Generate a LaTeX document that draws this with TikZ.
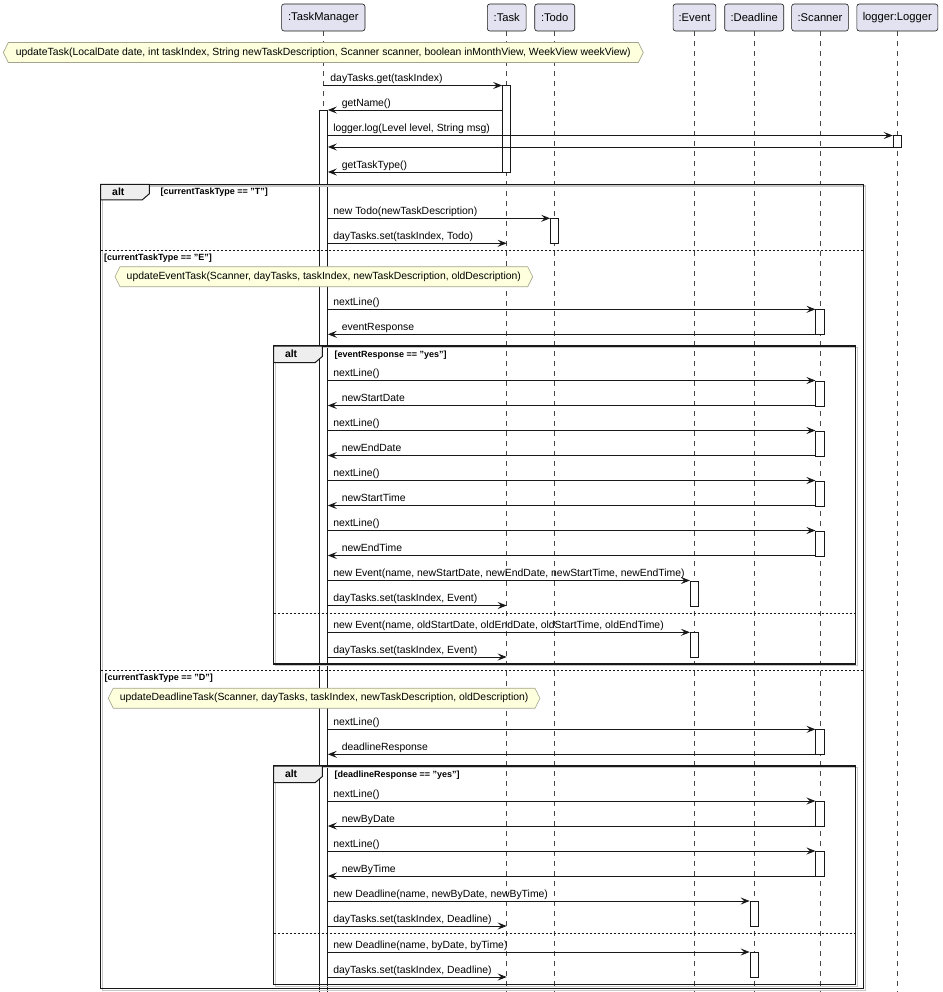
\documentclass[tikz,border=0pt]{standalone}
\usepackage{fontspec}
\setmainfont{Liberation Sans}
\usetikzlibrary{arrows.meta}
\definecolor{lineC}{HTML}{181818}
\definecolor{partC}{HTML}{E2E2F0}
\definecolor{noteF}{HTML}{FEFFDD}
\definecolor{noteD}{HTML}{A4A48C}
\definecolor{tabF}{HTML}{EEEEEE}
\definecolor{shadC}{HTML}{C8C8C8}

\newcommand\actbox[4]{\node[actbar, minimum height={(#4-#3)*1pt}] (#1) at (#2 |- 0,#3) {};}
\newcommand\fmsg[5][5]{\draw[msg] (#2 |- 0,#4) -- (#3 |- 0,#4) node[lbl,pos=0,anchor=base west,xshift=#1pt,yshift=3.6pt]{#5};}
\newcommand\rmsg[4]{\draw[msg] (#1 |- 0,#3) -- (#2 |- 0,#3) node[lbl,pos=1,anchor=base west,xshift=13.5pt,yshift=3.6pt]{#4};}
\newcommand\hnote[5]{%
  \draw[notebox] (#2,#4) -- (#2+5,#4-10) -- (#3-5,#4-10) -- (#3,#4) -- (#3-5,#4+10) -- (#2+5,#4+10) -- cycle;
  \node[notetxt] (#1) at ({(#2+#3)/2},#4) {#5};}
\newcommand\altbox[7]{% x1 y1 x2 y2 tabright tabh name
  \draw[shadC, line width=1.2pt] (#1+1.8,#2+1.8) rectangle (#3+1.8,#4+1.8);
  \draw[frameS] (#1,#2) rectangle (#3,#4);
  \draw[frameS, line width=1pt, fill=tabF] (#1,#2) -- (#5,#2) -- (#5,#2+#6-6) -- (#5-7,#2+#6) -- (#1,#2+#6) -- cycle;
  \node[alttxt] (#7) at ({#1+17.6},{#2+#6/2}) {alt};}

\begin{document}
\begin{tikzpicture}[x=1pt,y=-1pt,
  part/.style={draw=lineC, fill=partC, line width=0.6pt, rounded corners=2.5pt, minimum height=27pt, inner sep=0pt, font=\fontsize{11.2}{13}\selectfont},
  lifeline/.style={draw=lineC!80, line width=0.5pt, dash pattern=on 5pt off 5pt},
  actbar/.style={draw=lineC, fill=white, line width=0.8pt, minimum width=8.3pt, inner sep=0pt, anchor=north},
  msg/.style={draw=lineC, line width=0.9pt, -{Stealth[length=9pt,width=7pt,inset=3.5pt]}},
  lbl/.style={font=\fontsize{10.4}{12}\selectfont, inner sep=0pt, text=black},
  notebox/.style={draw=noteD, fill=noteF, line width=0.6pt},
  notetxt/.style={font=\fontsize{10.4}{12}\selectfont, inner sep=0pt},
  frameS/.style={draw=lineC, line width=1.4pt},
  alttxt/.style={font=\bfseries\fontsize{10.4}{12}\selectfont, inner sep=0pt},
  guard/.style={font=\bfseries\fontsize{9}{11}\selectfont, inner sep=0pt, anchor=west},
  sepline/.style={draw=lineC, line width=0.8pt, dash pattern=on 2pt off 2pt}
]
\useasboundingbox (0,0) rectangle (942,992);
\coordinate (bottom) at (0,992);

% participants
\node[part, minimum width=83.3pt] (pTM) at (323.3,17.5) {:TaskManager};
\node[part, minimum width=38.7pt] (pTask) at (506.7,17.5) {:Task};
\node[part, minimum width=40pt] (pTodo) at (554.7,17.5) {:Todo};
\node[part, minimum width=42.7pt] (pEv) at (694.5,17.5) {:Event};
\node[part, minimum width=59pt] (pDl) at (754.2,17.5) {:Deadline};
\node[part, minimum width=56.7pt] (pSc) at (820,17.5) {:Scanner};
\node[part, minimum width=81pt] (pLog) at (897.3,17.5) {logger:Logger};

% lifelines
\foreach \p in {pTM,pTask,pTodo,pEv,pDl,pSc,pLog}
  \draw[lifeline] (\p.south) -- (\p.south |- bottom);

% activations
\actbox{aTM}{pTM}{110}{992}
\actbox{aTask}{pTask}{85.5}{172}
\actbox{aLog}{pLog}{135.5}{147}
\actbox{aTodo}{pTodo}{218.3}{243.3}
\actbox{aSc1}{pSc}{309.3}{334.3}
\actbox{aSc2}{pSc}{380.5}{405.5}
\actbox{aSc3}{pSc}{430.5}{455.5}
\actbox{aSc4}{pSc}{480.5}{505.5}
\actbox{aSc5}{pSc}{530.5}{555.5}
\actbox{aEv1}{pEv}{580.5}{605.5}
\actbox{aEv2}{pEv}{632.3}{657.3}
\actbox{aSc6}{pSc}{729.3}{754.3}
\actbox{aSc7}{pSc}{801}{826}
\actbox{aSc8}{pSc}{851}{876}
\actbox{aDl1}{pDl}{901}{926}
\actbox{aDl2}{pDl}{952}{977}

% frames
\altbox{100.7}{184.3}{863.5}{988.7}{149.3}{15.5}{altOuter}
\node[guard] (gT) at (160.5,192.2) {[currentTaskType == "T"]};
\draw[sepline] (100.7,250.7) -- (863.5,250.7);
\node[guard] (gE) at (104,258.3) {[currentTaskType == "E"]};
\draw[sepline] (100.7,670.7) -- (863.5,670.7);
\node[guard] (gD) at (104.5,678.3) {[currentTaskType == "D"]};

\altbox{273.5}{346}{855.5}{664}{322.3}{16.5}{altEv}
\node[guard] (gEv) at (334.3,355.2) {[eventResponse == "yes"]};
\draw[sepline] (273.5,613.3) -- (855.5,613.3);

\altbox{273.5}{766}{855.5}{984.3}{322.3}{16.5}{altDl}
\node[guard] (gDl) at (334.3,775) {[deadlineResponse == "yes"]};
\draw[sepline] (273.5,933.3) -- (855.5,933.3);

% notes
\hnote{nUpd}{3.3}{643.3}{52.5}{updateTask(LocalDate date, int taskIndex, String newTaskDescription, Scanner scanner, boolean inMonthView, WeekView weekView)}
\hnote{nEv}{115}{532.7}{276.7}{updateEventTask(Scanner, dayTasks, taskIndex, newTaskDescription, oldDescription)}
\hnote{nDl}{108.3}{540}{698.2}{updateDeadlineTask(Scanner, dayTasks, taskIndex, newTaskDescription, oldDescription)}

% messages
\fmsg[6.7]{pTM}{aTask.west}{85.5}{dayTasks.get(taskIndex)}
\rmsg{aTask.west}{aTM.east}{110}{getName()}
\fmsg{aTM.east}{aLog.west}{135.5}{logger.log(Level level, String msg)}
\draw[msg] (aLog.west |- 0,147) -- (aTM.east |- 0,147);
\rmsg{aTask.west}{aTM.east}{172}{getTaskType()}

\fmsg{aTM.east}{aTodo.west}{218.3}{new Todo(newTaskDescription)}
\fmsg{aTM.east}{pTask}{243.3}{dayTasks.set(taskIndex, Todo)}

\fmsg{aTM.east}{aSc1.west}{309.3}{nextLine()}
\rmsg{aSc1.west}{aTM.east}{334.3}{eventResponse}
\fmsg{aTM.east}{aSc2.west}{380.5}{nextLine()}
\rmsg{aSc2.west}{aTM.east}{405.5}{newStartDate}
\fmsg{aTM.east}{aSc3.west}{430.5}{nextLine()}
\rmsg{aSc3.west}{aTM.east}{455.5}{newEndDate}
\fmsg{aTM.east}{aSc4.west}{480.5}{nextLine()}
\rmsg{aSc4.west}{aTM.east}{505.5}{newStartTime}
\fmsg{aTM.east}{aSc5.west}{530.5}{nextLine()}
\rmsg{aSc5.west}{aTM.east}{555.5}{newEndTime}
\fmsg{aTM.east}{aEv1.west}{580.5}{new Event(name, newStartDate, newEndDate, newStartTime, newEndTime)}
\fmsg{aTM.east}{pTask}{605.5}{dayTasks.set(taskIndex, Event)}
\fmsg{aTM.east}{aEv2.west}{632.3}{new Event(name, oldStartDate, oldEndDate, oldStartTime, oldEndTime)}
\fmsg{aTM.east}{pTask}{657}{dayTasks.set(taskIndex, Event)}

\fmsg{aTM.east}{aSc6.west}{729.3}{nextLine()}
\rmsg{aSc6.west}{aTM.east}{754.3}{deadlineResponse}
\fmsg{aTM.east}{aSc7.west}{801}{nextLine()}
\rmsg{aSc7.west}{aTM.east}{826}{newByDate}
\fmsg{aTM.east}{aSc8.west}{851}{nextLine()}
\rmsg{aSc8.west}{aTM.east}{876}{newByTime}
\fmsg{aTM.east}{aDl1.west}{901}{new Deadline(name, newByDate, newByTime)}
\fmsg{aTM.east}{pTask}{926}{dayTasks.set(taskIndex, Deadline)}
\fmsg{aTM.east}{aDl2.west}{952}{new Deadline(name, byDate, byTime)}
\fmsg{aTM.east}{pTask}{977}{dayTasks.set(taskIndex, Deadline)}
\end{tikzpicture}
\end{document}
